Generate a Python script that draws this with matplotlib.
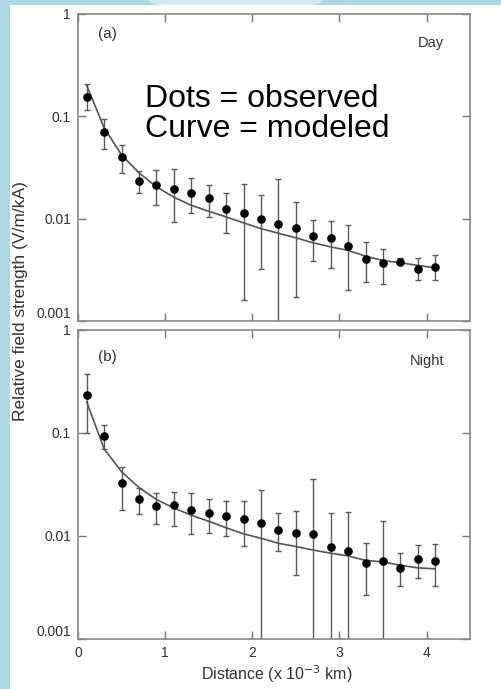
import numpy as np
import matplotlib
matplotlib.use("Agg")
import matplotlib.pyplot as plt
from matplotlib.patches import Rectangle, Ellipse

plt.rcParams['font.family'] = ['Liberation Sans', 'DejaVu Sans']

# distances (x 10^-3 km)
distance = [0.1, 0.3, 0.5, 0.7, 0.9, 1.1, 1.3, 1.5, 1.7, 1.9, 2.1,
            2.3, 2.5, 2.7, 2.9, 3.1, 3.3, 3.5, 3.7, 3.9, 4.1]

# (a) day: observed, error bar limits, modeled curve
day_obs = [0.155, 0.070, 0.040, 0.0231, 0.0215, 0.0195, 0.0179, 0.0158, 0.0124, 0.0114, 0.0099,
           0.0089, 0.0081, 0.0067, 0.0065, 0.0054, 0.0040, 0.0037, 0.0038, 0.0032, 0.0034]
day_hi = [0.207, 0.095, 0.052, 0.029, 0.0297, 0.0305, 0.025, 0.0213, 0.0177, 0.0216, 0.017,
          0.0244, 0.0144, 0.0098, 0.0095, 0.0087, 0.0059, 0.0051, 0.0041, 0.0041, 0.0044]
day_lo = [0.115, 0.0475, 0.028, 0.0179, 0.0136, 0.0093, 0.0114, 0.0104, 0.0073, 0.0016, 0.0032,
          0.0001, 0.0017, 0.0039, 0.0033, 0.0020, 0.0024, 0.0023, 0.0036, 0.0025, 0.0025]
day_model = [0.20, 0.077, 0.042, 0.028, 0.0205, 0.0162, 0.0135, 0.0118, 0.0104, 0.0091, 0.0080,
             0.0072, 0.0065, 0.0058, 0.0053, 0.0049, 0.0043, 0.0039, 0.0037, 0.0035, 0.0033]

# (b) night
night_obs = [0.235, 0.094, 0.0324, 0.0226, 0.0195, 0.0198, 0.0178, 0.0166, 0.0156, 0.0146, 0.0134,
             0.0114, 0.0108, 0.0105, 0.0078, 0.0072, 0.0055, 0.0057, 0.0049, 0.0060, 0.0057]
night_hi = [0.371, 0.12, 0.047, 0.029, 0.0263, 0.0269, 0.026, 0.0228, 0.0218, 0.0218, 0.0277,
            0.0166, 0.0174, 0.036, 0.0166, 0.017, 0.0085, 0.0139, 0.0068, 0.0081, 0.0083]
night_lo = [0.101, 0.070, 0.018, 0.0162, 0.0132, 0.0124, 0.0105, 0.0108, 0.0101, 0.0080, 0.0001,
            0.0071, 0.0042, 0.0001, 0.0001, 0.0001, 0.0027, 0.0001, 0.0033, 0.0039, 0.0033]
night_model = [0.20, 0.070, 0.042, 0.0295, 0.0226, 0.0187, 0.0159, 0.0139, 0.0120, 0.0105, 0.0095,
               0.0085, 0.0079, 0.0073, 0.0068, 0.0064, 0.0058, 0.0056, 0.0052, 0.0049, 0.0048]

x_ticks = [0, 1, 2, 3, 4]
y_ticks = [0.001, 0.01, 0.1, 1]
y_ticklabels = ['0.001', '0.01', '0.1', '1']

fig = plt.figure(figsize=(5.02, 6.89), dpi=100)
fig.patch.set_facecolor('#afd7e3')
# lighter swoosh at the top and white slide area (behind the axes)
fig.patches.append(Ellipse((0.47, 1.0), 0.35, 0.03, transform=fig.transFigure,
                           facecolor='#cfeaf5', edgecolor='none', zorder=-3))
fig.patches.append(Rectangle((0.02, 0.0), 0.98, 0.9927, transform=fig.transFigure,
                             facecolor='white', edgecolor='none', zorder=-2))

ax_a = fig.add_axes([0.1554, 0.5341, 0.781, 0.4456])
ax_b = fig.add_axes([0.1554, 0.0726, 0.781, 0.4485])


def draw_panel(ax, obs, lo, hi, model, tag, tag_y, label, label_x, label_y):
    obs = np.array(obs)
    yerr = [obs - np.array(lo), np.array(hi) - obs]
    ax.errorbar(distance, obs, yerr=yerr, fmt='none', ecolor='#5a5a5a',
                elinewidth=1.0, capsize=2.5, capthick=1.0, zorder=2)
    ax.plot(distance, model, color='#555555', lw=1.2, zorder=3)
    ax.plot(distance, obs, 'o', color='black', ms=5.2, zorder=4)
    ax.set_yscale('log')
    ax.set_xlim(0, 4.5)
    ax.set_ylim(0.001, 1)
    ax.set_xticks(x_ticks)
    ax.set_yticks(y_ticks)
    ax.set_yticklabels(y_ticklabels)
    ax.minorticks_off()
    ax.tick_params(direction='in', length=6, width=1, color='#777777',
                   top=True, right=True, labelsize=10, labelcolor='#333333', pad=5)
    # lowest label sits a bit above its tick in the original
    ax.get_yticklabels()[0].set_verticalalignment('bottom')
    for sp in ax.spines.values():
        sp.set_color('#888888')
        sp.set_linewidth(1.2)
    ax.text(0.05, tag_y, tag, transform=ax.transAxes, fontsize=11, color='#333333',
            ha='left', va='center')
    ax.text(label_x, label_y, label, transform=ax.transAxes, fontsize=10.5, color='#333333',
            ha='center', va='center')


draw_panel(ax_a, day_obs, day_lo, day_hi, day_model, '(a)', 0.935, 'Day', 0.90, 0.905)
draw_panel(ax_b, night_obs, night_lo, night_hi, night_model, '(b)', 0.913, 'Night', 0.89, 0.90)
ax_a.tick_params(labelbottom=False)

ax_a.text(0.172, 0.675, 'Dots = observed\nCurve = modeled', transform=ax_a.transAxes,
          fontsize=23, color='black', ha='left', va='center', linespacing=0.98)

fig.text(0.04, 0.563, 'Relative field strength (V/m/kA)', rotation=90,
         ha='center', va='center', fontsize=12.5, color='#333333')
fig.text(0.552, 0.021, 'Distance (x 10$^{-3}$ km)', ha='center', va='center',
         fontsize=11.5, color='#333333')

fig.savefig('out.png', dpi=100, facecolor=fig.get_facecolor())
